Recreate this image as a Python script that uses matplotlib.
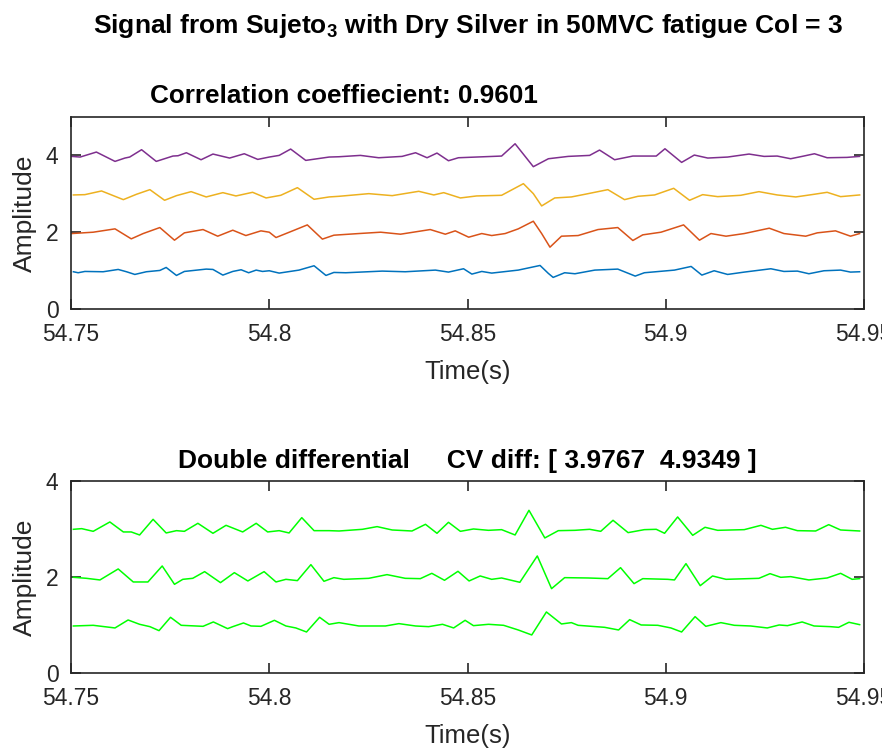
import matplotlib
matplotlib.use("Agg")
import matplotlib.pyplot as plt
import numpy as np

plt.rcParams["font.family"] = ["Liberation Sans", "DejaVu Sans"]
plt.rcParams["mathtext.default"] = "regular"

T0 = 54.75

# channel 1..4 of the monopolar signal: (ms after 54.75 s, amplitude)
ch1_ms = [0.6, 1.8, 3.5, 8.1, 11.9, 14.0, 16.1, 19.0, 22.4, 24.0, 26.6, 28.6, 34.1, 35.8,
          38.3, 40.8, 42.9, 44.8, 46.7, 48.3, 50.0, 52.5, 57.5, 61.3, 64.3, 66.3, 69.3,
          78.5, 84.3, 91.9, 95.2, 99.0, 101.1, 103.6, 106.1, 112.8, 118.3, 120.4, 121.6,
          124.5, 127.1, 132.1, 137.9, 142.3, 144.6, 152.2, 156.4, 159.1, 162.2, 165.6,
          169.8, 176.5, 179.8, 183.2, 186.1, 189.9, 194.1, 196.6, 198.9]
ch1 = [0.970, 0.944, 0.978, 0.970, 1.030, 0.970, 0.900, 0.970, 1.004, 1.082, 0.874, 0.978,
       1.039, 1.030, 0.883, 0.978, 1.022, 0.944, 1.013, 0.978, 0.996, 0.935, 1.013, 1.126,
       0.874, 0.952, 0.944, 0.987, 0.970, 1.013, 0.961, 1.048, 0.909, 0.978, 0.935, 1.013,
       1.134, 0.926, 0.823, 0.944, 0.918, 1.013, 1.039, 0.857, 0.944, 1.013, 1.108, 0.883,
       0.996, 0.900, 0.961, 1.048, 0.978, 0.987, 0.918, 0.996, 1.013, 0.961, 0.970]

ch2_ms = [0.2, 5.6, 11.1, 15.2, 18.2, 22.4, 26.1, 28.6, 33.3, 37.0, 40.8, 44.1, 47.9, 50.0,
          51.7, 55.9, 59.6, 63.4, 66.3, 72.6, 78.1, 83.1, 90.6, 94.4, 96.9, 100.3, 103.6,
          106.1, 109.5, 112.8, 116.6, 118.7, 120.8, 123.7, 127.9, 132.9, 137.9, 141.7,
          144.2, 148.8, 154.5, 158.5, 161.4, 165.2, 169.8, 176.1, 179.8, 185.3, 188.2,
          192.8, 196.6, 198.9]
ch2 = [1.965, 2.000, 2.087, 1.827, 1.965, 2.121, 1.792, 1.983, 2.069, 1.896, 2.052, 1.913,
       2.035, 2.000, 1.861, 2.035, 2.190, 1.820, 1.922, 1.965, 2.000, 1.948, 2.069, 1.948,
       2.035, 1.870, 1.965, 1.913, 1.965, 2.087, 2.286, 1.965, 1.610, 1.896, 1.913, 2.069,
       2.121, 1.784, 1.931, 2.000, 2.190, 1.792, 1.965, 1.896, 1.965, 2.104, 1.965, 1.896,
       1.983, 2.035, 1.896, 1.965]

ch3_ms = [0.6, 3.5, 7.7, 13.2, 16.5, 19.9, 23.6, 26.6, 30.3, 34.1, 38.3, 41.6, 45.8, 49.2,
          52.9, 57.1, 61.3, 65.1, 67.6, 75.1, 81.0, 87.7, 91.5, 94.0, 98.2, 102.3, 108.6,
          114.1, 116.6, 118.7, 122.0, 126.2, 129.6, 135.4, 139.6, 143.0, 147.2, 152.0,
          156.0, 159.3, 163.1, 168.9, 173.5, 178.1, 182.8, 187.4, 190.7, 194.1, 198.9]
ch3 = [2.970, 2.978, 3.074, 2.848, 2.987, 3.108, 2.831, 2.952, 3.056, 2.918, 3.030, 2.944,
       3.039, 2.892, 2.961, 3.160, 2.857, 2.918, 2.935, 3.004, 2.952, 3.065, 2.970, 3.030,
       2.892, 2.944, 2.961, 3.264, 3.004, 2.684, 2.892, 2.918, 2.987, 3.108, 2.848, 2.935,
       2.970, 3.143, 2.831, 2.978, 2.926, 2.961, 3.056, 2.970, 2.918, 2.987, 3.039, 2.926,
       2.970]

ch4_ms = [0.2, 2.3, 6.4, 11.1, 13.6, 14.8, 17.8, 21.5, 25.7, 27.0, 29.1, 32.8, 35.8, 40.0,
          43.7, 47.1, 50.0, 52.5, 55.4, 59.2, 65.1, 67.6, 73.0, 77.6, 83.5, 86.9, 89.8,
          92.3, 95.2, 97.7, 108.6, 112.0, 116.6, 120.4, 125.4, 130.8, 133.3, 137.1, 141.7,
          147.6, 149.8, 154.0, 157.2, 160.6, 165.6, 171.0, 174.8, 178.1, 181.5, 184.8,
          187.5, 190.7, 195.7, 198.9]
ch4 = [3.974, 3.957, 4.087, 3.844, 3.931, 3.957, 4.148, 3.844, 3.983, 3.991, 4.069, 3.887,
       4.035, 3.931, 4.043, 3.896, 3.957, 4.000, 4.165, 3.870, 3.957, 3.965, 4.000, 3.939,
       3.974, 4.069, 3.939, 4.061, 3.861, 3.939, 3.983, 4.303, 3.706, 3.913, 3.974, 4.000,
       4.139, 3.887, 3.983, 3.983, 4.173, 3.818, 4.009, 3.931, 3.957, 4.035, 3.974, 3.983,
       3.913, 3.983, 4.043, 3.939, 3.948, 3.974]

# double differential channels
dd1_ms = [0.6, 5.6, 11.1, 14.4, 17.3, 19.9, 22.2, 25.1, 27.8, 33.3, 35.9, 39.5, 40.8, 43.5,
          45.4, 47.9, 51.3, 54.2, 56.7, 59.4, 62.7, 65.1, 67.6, 72.6, 79.3, 82.7, 86.9,
          90.2, 93.7, 96.5, 99.4, 101.5, 105.3, 109.1, 112.8, 116.2, 119.9, 123.7, 126.2,
          127.9, 134.6, 138.1, 140.9, 143.8, 148.0, 151.3, 154.0, 157.4, 160.1, 163.9,
          167.3, 171.4, 175.6, 178.6, 180.7, 184.4, 187.4, 191.5, 193.6, 196.2, 198.9]
dd1 = [0.979, 0.993, 0.938, 1.104, 1.014, 0.965, 0.882, 1.160, 0.993, 0.972, 1.063, 0.924,
       0.965, 1.042, 0.979, 0.972, 1.097, 0.979, 0.938, 0.854, 1.160, 1.014, 1.049, 0.979,
       0.979, 1.028, 0.979, 0.965, 1.014, 0.938, 1.097, 0.986, 1.014, 0.993, 0.896, 0.792,
       1.271, 1.021, 1.049, 0.993, 0.951, 0.896, 1.111, 1.000, 0.993, 0.938, 0.854, 1.174,
       0.972, 1.049, 0.993, 0.979, 0.938, 1.000, 0.986, 1.063, 0.979, 0.965, 0.951, 1.056,
       1.007]

dd2_ms = [0.6, 3.9, 7.3, 11.9, 15.7, 19.4, 23.0, 26.1, 28.2, 30.7, 33.7, 37.7, 41.2, 44.6,
          48.7, 51.7, 54.2, 57.1, 60.5, 63.8, 66.3, 68.8, 75.1, 79.7, 84.3, 88.1, 91.0,
          94.2, 97.6, 100.4, 103.2, 106.1, 108.6, 113.2, 117.6, 121.2, 124.5, 130.4, 135.4,
          138.6, 142.0, 144.2, 150.5, 152.2, 155.1, 158.7, 161.8, 165.2, 173.5, 176.3,
          179.0, 181.5, 186.1, 190.7, 194.1, 197.0, 198.9]
dd2 = [1.993, 1.972, 1.938, 2.167, 1.896, 1.896, 2.229, 1.847, 1.951, 1.972, 2.111, 1.882,
       2.090, 1.917, 2.111, 1.896, 1.951, 1.924, 2.257, 1.910, 1.986, 1.951, 1.972, 2.049,
       1.972, 1.965, 2.076, 1.931, 2.118, 1.917, 2.021, 1.951, 1.979, 1.889, 2.438, 1.757,
       1.986, 1.979, 1.965, 2.194, 1.861, 1.965, 1.951, 1.938, 2.278, 1.819, 2.021, 1.951,
       1.972, 2.069, 1.993, 2.007, 1.938, 1.979, 2.076, 1.951, 1.965]

dd3_ms = [0.6, 2.7, 5.6, 9.8, 13.2, 15.2, 17.3, 20.7, 24.0, 26.6, 28.6, 32.0, 35.8, 39.1,
          43.3, 46.7, 49.6, 52.5, 55.0, 58.2, 61.3, 65.1, 67.6, 73.5, 77.2, 81.0, 86.0,
          89.4, 92.3, 95.2, 98.2, 101.5, 105.3, 108.6, 112.0, 115.5, 119.5, 122.9, 127.1,
          130.8, 133.6, 136.7, 140.5, 144.6, 147.6, 149.7, 153.0, 156.8, 159.9, 163.1,
          169.8, 174.0, 176.9, 180.2, 183.2, 187.8, 191.1, 194.1, 198.9]
dd3 = [2.993, 3.007, 2.951, 3.146, 2.938, 2.938, 2.875, 3.201, 2.917, 2.965, 2.951, 3.118,
       2.910, 3.076, 2.938, 3.118, 2.938, 2.965, 2.917, 3.236, 2.965, 2.965, 2.958, 2.993,
       3.049, 2.979, 2.958, 3.097, 2.910, 3.139, 2.951, 3.000, 2.972, 2.986, 2.875, 3.389,
       2.813, 2.965, 2.972, 2.993, 2.951, 3.181, 2.924, 2.986, 2.993, 2.910, 3.250, 2.868,
       3.035, 2.972, 2.986, 3.076, 2.993, 3.035, 2.965, 2.958, 3.090, 2.979, 2.958]

mono = [(ch1_ms, ch1, "#0072BD"), (ch2_ms, ch2, "#D95319"),
        (ch3_ms, ch3, "#EDB120"), (ch4_ms, ch4, "#7E2F8E")]
dd = [(dd1_ms, dd1), (dd2_ms, dd2), (dd3_ms, dd3)]

xticks = [54.75, 54.8, 54.85, 54.9, 54.95]
xticklabels = ["54.75", "54.8", "54.85", "54.9", "54.95"]


def style(ax, ymax, yticks):
    ax.set_xlim(54.75, 54.95)
    ax.set_ylim(0, ymax)
    ax.set_xticks(xticks)
    ax.set_xticklabels(xticklabels)
    ax.set_yticks(yticks)
    ax.tick_params(direction="in", top=True, right=True, length=7, width=1.2,
                   labelsize=16.5, colors="#262626")
    ax.tick_params(axis="x", pad=10)
    ax.tick_params(axis="y", pad=9)
    for s in ax.spines.values():
        s.set_linewidth(1.2)
        s.set_color("#262626")
    ax.set_xlabel("Time(s)", fontsize=18.5, color="#262626", labelpad=10)
    ax.set_ylabel("Amplitude", fontsize=19, color="#262626", labelpad=6)


fig = plt.figure(figsize=(8.82, 7.5), dpi=100)

ax1 = fig.add_axes([0.0805, 0.588, 0.8991, 0.256])
for ms, y, c in mono:
    ax1.plot(T0 + np.array(ms) / 1000.0, y, color=c, lw=1.1)
style(ax1, 5, [0, 2, 4])
ax1.text(0.344, 1.11, "Correlation coeffiecient: 0.9601", transform=ax1.transAxes,
         ha="center", va="center", fontsize=18.8, fontweight="bold")

ax2 = fig.add_axes([0.0805, 0.1027, 0.8991, 0.256])
for ms, y in dd:
    ax2.plot(T0 + np.array(ms) / 1000.0, y, color="#00FF00", lw=1.1)
style(ax2, 4, [0, 2, 4])
ax2.text(0.5, 1.105, "Double differential     CV diff: [ 3.9767  4.9349 ]",
         transform=ax2.transAxes, ha="center", va="center", fontsize=19, fontweight="bold")

fig.text(0.5306, 0.966, "Signal from Sujeto$_3$ with Dry Silver in 50MVC fatigue Col = 3",
         ha="center", va="center", fontsize=19, fontweight="bold")

fig.savefig("out.png", dpi=100)
